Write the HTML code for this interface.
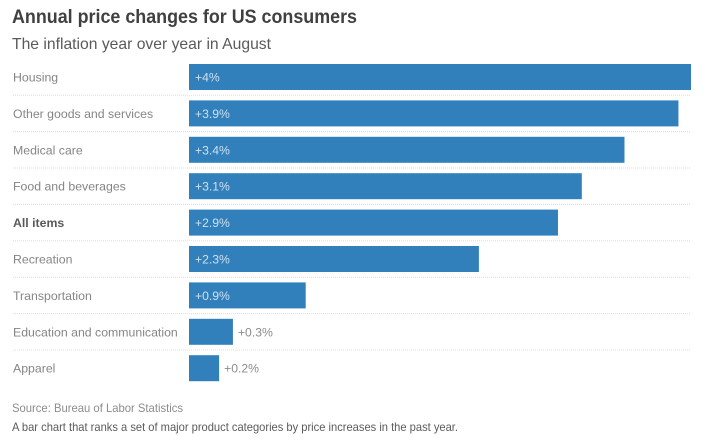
<!DOCTYPE html>
<html lang="en">
<head>
<meta charset="utf-8">
<title>Annual price changes for US consumers</title>
<style>
html,body{margin:0;padding:0;background:#fff;width:714px;height:446px;overflow:hidden}
svg{display:block;font-family:"Liberation Sans",sans-serif}
</style>
</head>
<body>
<svg id="chart" width="714" height="446" viewBox="0 0 714 446" xmlns="http://www.w3.org/2000/svg">
  <text x="12" y="23" font-size="19" font-weight="700" fill="#404040" textLength="345" lengthAdjust="spacingAndGlyphs">Annual price changes for US consumers</text>
  <text x="12" y="49" font-size="16" fill="#5a5a5a" textLength="259" lengthAdjust="spacingAndGlyphs">The inflation year over year in August</text>
  <g id="rows"></g>
  <text x="12" y="412" font-size="12" fill="#8c8c8c" textLength="171" lengthAdjust="spacingAndGlyphs">Source: Bureau of Labor Statistics</text>
  <text x="12" y="431" font-size="12" fill="#5a5a5a" textLength="446" lengthAdjust="spacingAndGlyphs">A bar chart that ranks a set of major product categories by price increases in the past year.</text>
</svg>
<script>
const categories = ["Housing", "Other goods and services", "Medical care", "Food and beverages", "All items", "Recreation", "Transportation", "Education and communication", "Apparel"];
const values = [4.0, 3.9, 3.47, 3.13, 2.94, 2.31, 0.93, 0.35, 0.24];
const valueLabels = ["+4%", "+3.9%", "+3.4%", "+3.1%", "+2.9%", "+2.3%", "+0.9%", "+0.3%", "+0.2%"];
const highlighted = ["All items"];

const NS = "http://www.w3.org/2000/svg";
const rowsGroup = document.getElementById("rows");
const x0 = 189, plotWidth = 502, maxValue = 4.0;
const top0 = 64, pitch = 36.4, barH = 26;
const xScale = v => (v / maxValue) * plotWidth;
const yScale = i => top0 + i * pitch;

function make(tag, attrs, parent) {
  const el = document.createElementNS(NS, tag);
  for (const k in attrs) el.setAttribute(k, attrs[k]);
  parent.appendChild(el);
  return el;
}

categories.forEach((cat, i) => {
  const y = yScale(i);
  const w = xScale(values[i]);
  const isBold = highlighted.includes(cat);

  const label = make("text", {x: 13, y: y + 17.5, "font-size": 12.3, fill: isBold ? "#5a5a5a" : "#858585", "font-weight": isBold ? 700 : 400}, rowsGroup);
  
  
  label.textContent = cat;

  const bar = make("rect", {x: x0, y: y, width: w, height: barH, fill: "#3180bc"}, rowsGroup);
  
  

  const inside = w > 60;
  const val = make("text", {x: inside ? x0 + 6 : x0 + w + 5, y: y + 17.5, "font-size": 12.2, fill: inside ? "#cfe0ee" : "#8c8c8c"}, rowsGroup);
  
  
  val.textContent = valueLabels[i];

  if (i < categories.length - 1) {
    const rule = make("line", {x1: 13, x2: 691, y1: y + barH + 5.2, y2: y + barH + 5.2, stroke: "#dcdcdc", "stroke-width": 1, "stroke-dasharray": "1 1"}, rowsGroup);
    
    
  }
});
</script>
</body>
</html>
